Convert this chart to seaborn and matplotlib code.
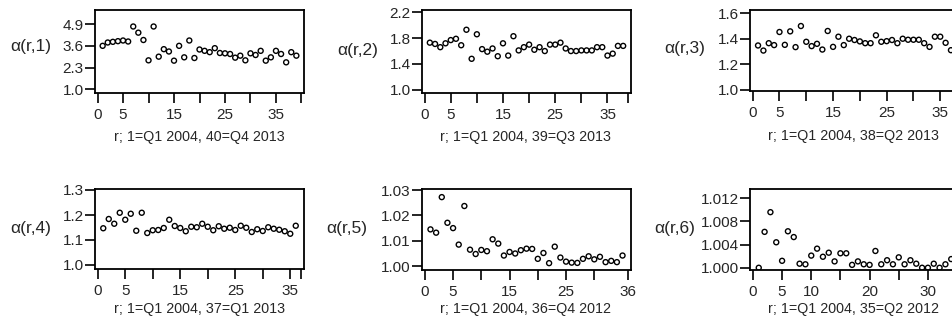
import matplotlib
matplotlib.use("Agg")
import matplotlib.pyplot as plt
import numpy as np
import seaborn as sns
import pandas as pd

# development factors alpha(r, j), r = 1 .. n-1
alpha1 = [3.60, 3.80, 3.84, 3.88, 3.92, 3.86, 4.76, 4.39, 3.95, 2.73, 4.76, 2.95, 3.40,
          3.26, 2.71, 3.60, 2.91, 3.92, 2.87, 3.38, 3.30, 3.22, 3.46, 3.17, 3.15, 3.11,
          2.89, 3.01, 2.73, 3.15, 3.05, 3.30, 2.71, 2.91, 3.30, 3.11, 2.61, 3.22, 3.01]
alpha2 = [1.73, 1.71, 1.66, 1.72, 1.77, 1.79, 1.69, 1.93, 1.48, 1.86, 1.63, 1.59, 1.64,
          1.52, 1.72, 1.53, 1.83, 1.61, 1.66, 1.70, 1.62, 1.66, 1.60, 1.70, 1.70, 1.73,
          1.64, 1.60, 1.60, 1.61, 1.61, 1.61, 1.66, 1.66, 1.53, 1.56, 1.68, 1.68]
alpha3 = [1.347, 1.307, 1.365, 1.350, 1.453, 1.352, 1.458, 1.334, 1.500, 1.376, 1.342,
          1.360, 1.315, 1.461, 1.336, 1.416, 1.350, 1.400, 1.390, 1.379, 1.365, 1.365,
          1.427, 1.376, 1.381, 1.390, 1.365, 1.400, 1.392, 1.392, 1.392, 1.365, 1.336,
          1.416, 1.416, 1.368, 1.310]
alpha4 = [1.147, 1.184, 1.165, 1.209, 1.181, 1.205, 1.137, 1.209, 1.128, 1.139, 1.140,
          1.148, 1.181, 1.156, 1.148, 1.135, 1.153, 1.151, 1.165, 1.153, 1.139, 1.155,
          1.145, 1.149, 1.140, 1.157, 1.149, 1.132, 1.143, 1.136, 1.151, 1.145, 1.141,
          1.135, 1.125, 1.157]
alpha5 = [1.0145, 1.0132, 1.0272, 1.0171, 1.0150, 1.0085, 1.0237, 1.0065, 1.0048, 1.0064,
          1.0059, 1.0106, 1.0089, 1.0042, 1.0056, 1.0050, 1.0063, 1.0069, 1.0068, 1.0029,
          1.0052, 1.0012, 1.0077, 1.0034, 1.0018, 1.0014, 1.0013, 1.0029, 1.0039, 1.0027,
          1.0037, 1.0016, 1.0021, 1.0016, 1.0042]
alpha6 = [1.0000, 1.0062, 1.0096, 1.0044, 1.0012, 1.0063, 1.0053, 1.0007, 1.0006, 1.0021,
          1.0033, 1.0019, 1.0026, 1.0011, 1.0025, 1.0025, 1.0005, 1.0011, 1.0006, 1.0005,
          1.0029, 1.0006, 1.0013, 1.0006, 1.0018, 1.0006, 1.0013, 1.0007, 1.0000, 1.0000,
          1.0007, 1.0000, 1.0006, 1.0015]

series = [alpha1, alpha2, alpha3, alpha4, alpha5, alpha6]
n_last = [40, 39, 38, 37, 36, 35]
last_lab = ["40=Q4 2013", "39=Q3 2013", "38=Q2 2013", "37=Q1 2013", "36=Q4 2012", "35=Q2 2012"]
yticks = [[1.0, 2.3, 3.6, 4.9], [1.0, 1.4, 1.8, 2.2], [1.0, 1.2, 1.4, 1.6],
          [1.0, 1.1, 1.2, 1.3], [1.00, 1.01, 1.02, 1.03], [1.000, 1.004, 1.008, 1.012]]
ydec = [1, 1, 1, 1, 2, 3]
xticks = [[0, 5, 10, 15, 20, 25, 30, 35, 40], [0, 5, 10, 15, 20, 25, 30, 35, 39],
          [0, 5, 10, 15, 20, 25, 30, 35, 38], [0, 5, 10, 15, 20, 25, 30, 35, 37],
          [0, 5, 10, 15, 20, 25, 30, 36], [0, 5, 10, 15, 20, 25, 30, 35]]
xshown = [[0, 5, 15, 25, 35], [0, 5, 15, 25, 35], [0, 5, 15, 25, 35],
          [0, 5, 15, 25, 35], [0, 5, 15, 25, 36], [0, 5, 10, 20, 30]]

sns.set_style("ticks")
plt.rcParams['font.family'] = ['Liberation Sans', 'DejaVu Sans']

W, H = 952, 327
fig = plt.figure(figsize=(W / 100, H / 100), dpi=100)

# pixel layout (left, top, right, bottom) of each box, ylim, label centres
boxes = [(95, 10, 304, 92.5), (422, 10, 631, 92.5), (750, 10, 959, 91),
         (95, 189, 304, 269), (422, 189, 631, 269.5), (750, 189, 960, 269.5)]
ylims = [(0.80, 5.75), (0.958, 2.236), (0.989, 1.626), (0.984, 1.304),
         (0.9987, 1.0304), (0.9997, 1.0136)]
ylab_pos = [(31, 47), (358, 51), (685, 49), (31, 229), (347, 229), (675, 228)]
xlab_pos = [(199, 137), (526, 137), (853, 136), (200, 309), (526, 309), (854, 309)]

for i, vals in enumerate(series):
    l, t, r, b = boxes[i]
    ax = fig.add_axes([l / W, 1 - b / H, (r - l) / W, (b - t) / H])
    df = pd.DataFrame({"r": np.arange(1, len(vals) + 1), "alpha": vals})
    sns.scatterplot(data=df, x="r", y="alpha", ax=ax, marker="o", s=13,
                    facecolor="none", edgecolor="black", linewidth=1.0)
    ax.set_xlim(-0.5, n_last[i] + 0.5)
    ax.set_ylim(*ylims[i])
    ax.set_xticks(xticks[i])
    ax.set_xticklabels([str(v) if v in xshown[i] else "" for v in xticks[i]])
    ax.set_yticks(yticks[i])
    ax.set_yticklabels([f"{v:.{ydec[i]}f}" for v in yticks[i]])
    ax.tick_params(axis="x", direction="out", length=7.5, width=1.2, labelsize=11,
                   pad=3.5, color="black")
    ax.tick_params(axis="y", direction="out", length=7.2, width=1.2, labelsize=11,
                   pad=1.0, color="black")
    ax.set_xlabel("")
    ax.set_ylabel("")
    for sp in ax.spines.values():
        sp.set_visible(True)
        sp.set_linewidth(1.3)
        sp.set_color("black")
    ax.set_facecolor("white")
    fig.text(ylab_pos[i][0] / W, 1 - ylab_pos[i][1] / H, f"α(r,{i + 1})",
             ha="center", va="center", fontsize=12.5)
    fig.text(xlab_pos[i][0] / W, 1 - xlab_pos[i][1] / H, f"r; 1=Q1 2004, {last_lab[i]}",
             ha="center", va="center", fontsize=10.3)

fig.savefig("out.png", dpi=100)
